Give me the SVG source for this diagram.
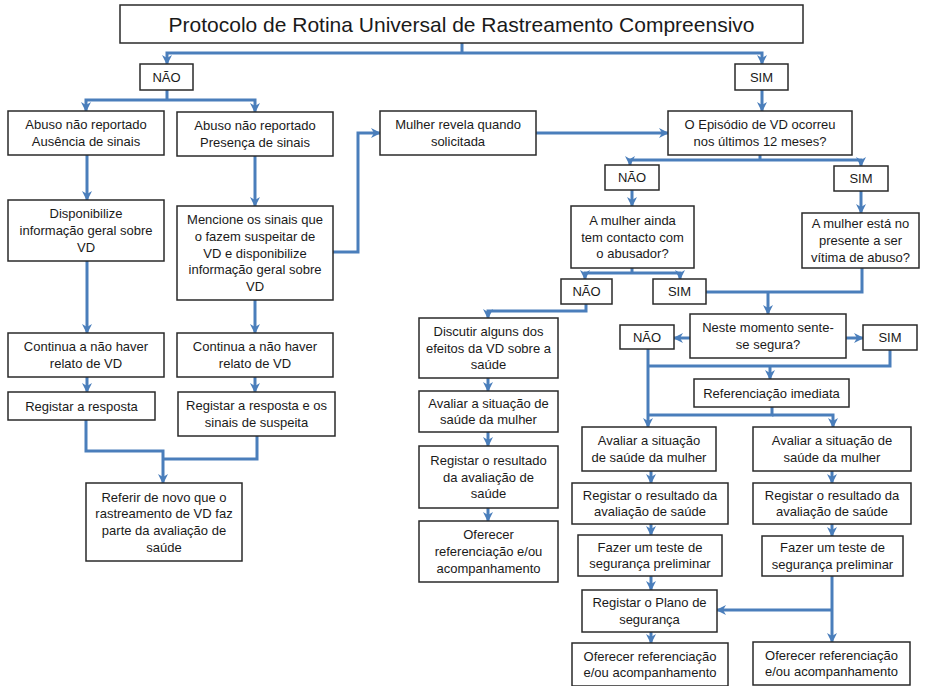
<svg xmlns="http://www.w3.org/2000/svg" width="925" height="686" viewBox="0 0 925 686">
<style>
.box{fill:#fff;stroke:#2a2a2a;stroke-width:1.5}
.t{font-family:"Liberation Sans",Arial,sans-serif;font-size:13px;text-anchor:middle;fill:#1a1a1a}
.title{font-family:"Liberation Sans",Arial,sans-serif;font-size:21px;text-anchor:middle;fill:#1a1a1a}
.c{fill:none;stroke:#4a7ebb;stroke-width:3;stroke-linejoin:miter}
.a{marker-end:url(#ah)}
</style>
<defs>
<marker id="ah" markerWidth="12" markerHeight="12" refX="9" refY="6" orient="auto" markerUnits="userSpaceOnUse">
<path d="M0,1 L10,6 L0,11 L3,6 z" fill="#4a7ebb"/>
</marker>
</defs>
<rect width="925" height="686" fill="#fff"/>

<g id="connectors">
<path class="c" d="M462,43 V53"/>
<path class="c a" d="M462,53 H167 V64"/>
<path class="c a" d="M462,53 H762 V64"/>
<path class="c" d="M167,90 V100"/>
<path class="c a" d="M167,100 H86 V111"/>
<path class="c a" d="M167,100 H255 V112"/>
<path class="c a" d="M762,90 V111"/>
<path class="c a" d="M536,133 H668"/>
<path class="c a" d="M333,252 H358 V133 H380"/>
<path class="c" d="M760,155 V160"/>
<path class="c a" d="M760,160 H630 V165"/>
<path class="c a" d="M760,160 H861 V166"/>
<path class="c a" d="M632,190 V206"/>
<path class="c a" d="M861,191 V213"/>
<path class="c" d="M632,268 V273"/>
<path class="c a" d="M632,273 H585 V279"/>
<path class="c a" d="M632,273 H680 V279"/>
<path class="c" d="M706,292 H862 V268"/>
<path class="c a" d="M768,292 V314"/>
<path class="c a" d="M586,304 V311 H488 V318"/>
<path class="c a" d="M488,378 V391"/>
<path class="c a" d="M488,432 V446"/>
<path class="c a" d="M488,508 V521"/>
<path class="c a" d="M690,338 H674"/>
<path class="c a" d="M846,338 H863"/>
<path class="c a" d="M648,349 V427"/>
<path class="c" d="M648,366 H890 V350"/>
<path class="c a" d="M770,366 V379"/>
<path class="c" d="M772,407 V415 H648"/>
<path class="c a" d="M772,415 H833 V427"/>
<path class="c a" d="M651,471 V483"/>
<path class="c a" d="M832,471 V483"/>
<path class="c a" d="M651,524 V535"/>
<path class="c a" d="M832,524 V536"/>
<path class="c a" d="M651,576 V590"/>
<path class="c a" d="M832,576 V642"/>
<path class="c a" d="M832,610 H717"/>
<path class="c a" d="M651,632 V643"/>
<path class="c a" d="M87,155 V200"/>
<path class="c a" d="M87,261 V333"/>
<path class="c a" d="M87,377 V392"/>
<path class="c a" d="M255,156 V206"/>
<path class="c a" d="M255,300 V333"/>
<path class="c a" d="M255,377 V392"/>
<path class="c a" d="M86,420 V451 H163 V483"/>
<path class="c" d="M257,436 V459 H163"/>
</g>

<g id="title"><rect class="box" x="120" y="5" width="683" height="38"/><text class="title" x="461.5" y="31.5">Protocolo de Rotina Universal de Rastreamento Compreensivo</text></g>

<g id="nao1"><rect class="box" x="140" y="64" width="53" height="26"/><text class="t" x="166.5" y="81.5">NÃO</text></g>
<g id="sim1"><rect class="box" x="735" y="64" width="53" height="26"/><text class="t" x="761.5" y="81.5">SIM</text></g>

<g id="abuso-ausencia"><rect class="box" x="8" y="111" width="156" height="44"/><text class="t" x="86" y="129.2">Abuso não reportado</text><text class="t" x="86" y="145.9">Ausência de sinais</text></g>
<g id="abuso-presenca"><rect class="box" x="177" y="112" width="156" height="44"/><text class="t" x="255" y="130.2">Abuso não reportado</text><text class="t" x="255" y="146.9">Presença de sinais</text></g>
<g id="mulher-revela"><rect class="box" x="380" y="111" width="156" height="44"/><text class="t" x="458" y="129.2">Mulher revela quando</text><text class="t" x="458" y="145.9">solicitada</text></g>
<g id="episodio"><rect class="box" x="668" y="111" width="184" height="44"/><text class="t" x="760" y="129.2">O Episódio de VD ocorreu</text><text class="t" x="760" y="145.9">nos últimos 12 meses?</text></g>

<g id="nao2"><rect class="box" x="605" y="165" width="54" height="25"/><text class="t" x="632" y="182">NÃO</text></g>
<g id="sim2"><rect class="box" x="834" y="166" width="54" height="25"/><text class="t" x="861" y="183">SIM</text></g>

<g id="ainda-contacto"><rect class="box" x="571" y="206" width="123" height="62"/><text class="t" x="632.5" y="224.8">A mulher ainda</text><text class="t" x="632.5" y="241.5">tem contacto com</text><text class="t" x="632.5" y="258.2">o abusador?</text></g>
<g id="vitima"><rect class="box" x="802" y="213" width="117" height="55"/><text class="t" x="860.5" y="228.3">A mulher está no</text><text class="t" x="860.5" y="245">presente a ser</text><text class="t" x="860.5" y="261.7">vítima de abuso?</text></g>

<g id="nao3"><rect class="box" x="561" y="279" width="51" height="25"/><text class="t" x="586.5" y="296">NÃO</text></g>
<g id="sim3"><rect class="box" x="653" y="279" width="53" height="25"/><text class="t" x="679.5" y="296">SIM</text></g>

<g id="discutir"><rect class="box" x="419" y="318" width="139" height="60"/><text class="t" x="488.5" y="335.8">Discutir alguns dos</text><text class="t" x="488.5" y="352.5">efeitos da VD sobre a</text><text class="t" x="488.5" y="369.2">saúde</text></g>
<g id="avaliar-l"><rect class="box" x="419" y="391" width="139" height="41"/><text class="t" x="488.5" y="407.6">Avaliar a situação de</text><text class="t" x="488.5" y="424.3">saúde da mulher</text></g>
<g id="registar-l"><rect class="box" x="419" y="446" width="139" height="62"/><text class="t" x="488.5" y="464.8">Registar o resultado</text><text class="t" x="488.5" y="481.5">da avaliação de</text><text class="t" x="488.5" y="498.2">saúde</text></g>
<g id="oferecer-l"><rect class="box" x="419" y="521" width="139" height="61"/><text class="t" x="488.5" y="539.3">Oferecer</text><text class="t" x="488.5" y="556">referenciação e/ou</text><text class="t" x="488.5" y="572.7">acompanhamento</text></g>

<g id="neste"><rect class="box" x="690" y="314" width="156" height="44"/><text class="t" x="768" y="332.2">Neste momento sente-</text><text class="t" x="768" y="348.9">se segura?</text></g>
<g id="nao4"><rect class="box" x="620" y="325" width="54" height="24"/><text class="t" x="647" y="341.5">NÃO</text></g>
<g id="sim4"><rect class="box" x="863" y="325" width="54" height="25"/><text class="t" x="890" y="342">SIM</text></g>
<g id="referenciacao"><rect class="box" x="694" y="379" width="155" height="28"/><text class="t" x="771.5" y="397.5">Referenciação imediata</text></g>

<g id="avaliar-m"><rect class="box" x="582" y="427" width="134" height="44"/><text class="t" x="649" y="445.2">Avaliar a situação</text><text class="t" x="649" y="461.9">de saúde da mulher</text></g>
<g id="avaliar-r"><rect class="box" x="753" y="427" width="158" height="44"/><text class="t" x="832" y="445.2">Avaliar a situação de</text><text class="t" x="832" y="461.9">saúde da mulher</text></g>
<g id="registar-m"><rect class="box" x="572" y="483" width="156" height="41"/><text class="t" x="650" y="499.7">Registar o resultado da</text><text class="t" x="650" y="516.4">avaliação de saúde</text></g>
<g id="registar-r"><rect class="box" x="753" y="483" width="158" height="41"/><text class="t" x="832" y="499.7">Registar o resultado da</text><text class="t" x="832" y="516.4">avaliação de saúde</text></g>
<g id="fazer-m"><rect class="box" x="578" y="535" width="144" height="41"/><text class="t" x="650" y="551.7">Fazer um teste de</text><text class="t" x="650" y="568.4">segurança preliminar</text></g>
<g id="fazer-r"><rect class="box" x="762" y="536" width="141" height="40"/><text class="t" x="832.5" y="552.2">Fazer um teste de</text><text class="t" x="832.5" y="568.9">segurança preliminar</text></g>
<g id="plano"><rect class="box" x="582" y="590" width="135" height="42"/><text class="t" x="649.5" y="607.2">Registar o Plano de</text><text class="t" x="649.5" y="623.9">segurança</text></g>
<g id="oferecer-m"><rect class="box" x="572" y="643" width="156" height="43"/><text class="t" x="650" y="660.7">Oferecer referenciação</text><text class="t" x="650" y="677.4">e/ou acompanhamento</text></g>
<g id="oferecer-r"><rect class="box" x="753" y="642" width="157" height="43"/><text class="t" x="831.5" y="659.7">Oferecer referenciação</text><text class="t" x="831.5" y="676.4">e/ou acompanhamento</text></g>

<g id="disponibilize"><rect class="box" x="8" y="200" width="156" height="61"/><text class="t" x="86" y="218.3">Disponibilize</text><text class="t" x="86" y="235">informação geral sobre</text><text class="t" x="86" y="251.7">VD</text></g>
<g id="mencione"><rect class="box" x="177" y="206" width="156" height="94"/><text class="t" x="255" y="224.1">Mencione os sinais que</text><text class="t" x="255" y="240.8">o fazem suspeitar de</text><text class="t" x="255" y="257.5">VD e disponibilize</text><text class="t" x="255" y="274.2">informação geral sobre</text><text class="t" x="255" y="290.9">VD</text></g>
<g id="continua-l"><rect class="box" x="8" y="333" width="156" height="44"/><text class="t" x="86" y="351.2">Continua a não haver</text><text class="t" x="86" y="367.9">relato de VD</text></g>
<g id="continua-m"><rect class="box" x="177" y="333" width="156" height="44"/><text class="t" x="255" y="351.2">Continua a não haver</text><text class="t" x="255" y="367.9">relato de VD</text></g>
<g id="registar-resposta"><rect class="box" x="8" y="392" width="147" height="28"/><text class="t" x="81.5" y="410.5">Registar a resposta</text></g>
<g id="registar-sinais"><rect class="box" x="178" y="392" width="157" height="44"/><text class="t" x="256.5" y="410.2">Registar a resposta e os</text><text class="t" x="256.5" y="426.9">sinais de suspeita</text></g>
<g id="referir"><rect class="box" x="86" y="483" width="156" height="78"/><text class="t" x="164" y="501.5">Referir de novo que o</text><text class="t" x="164" y="518.2">rastreamento de VD faz</text><text class="t" x="164" y="534.9">parte da avaliação de</text><text class="t" x="164" y="551.6">saúde</text></g>
</svg>
